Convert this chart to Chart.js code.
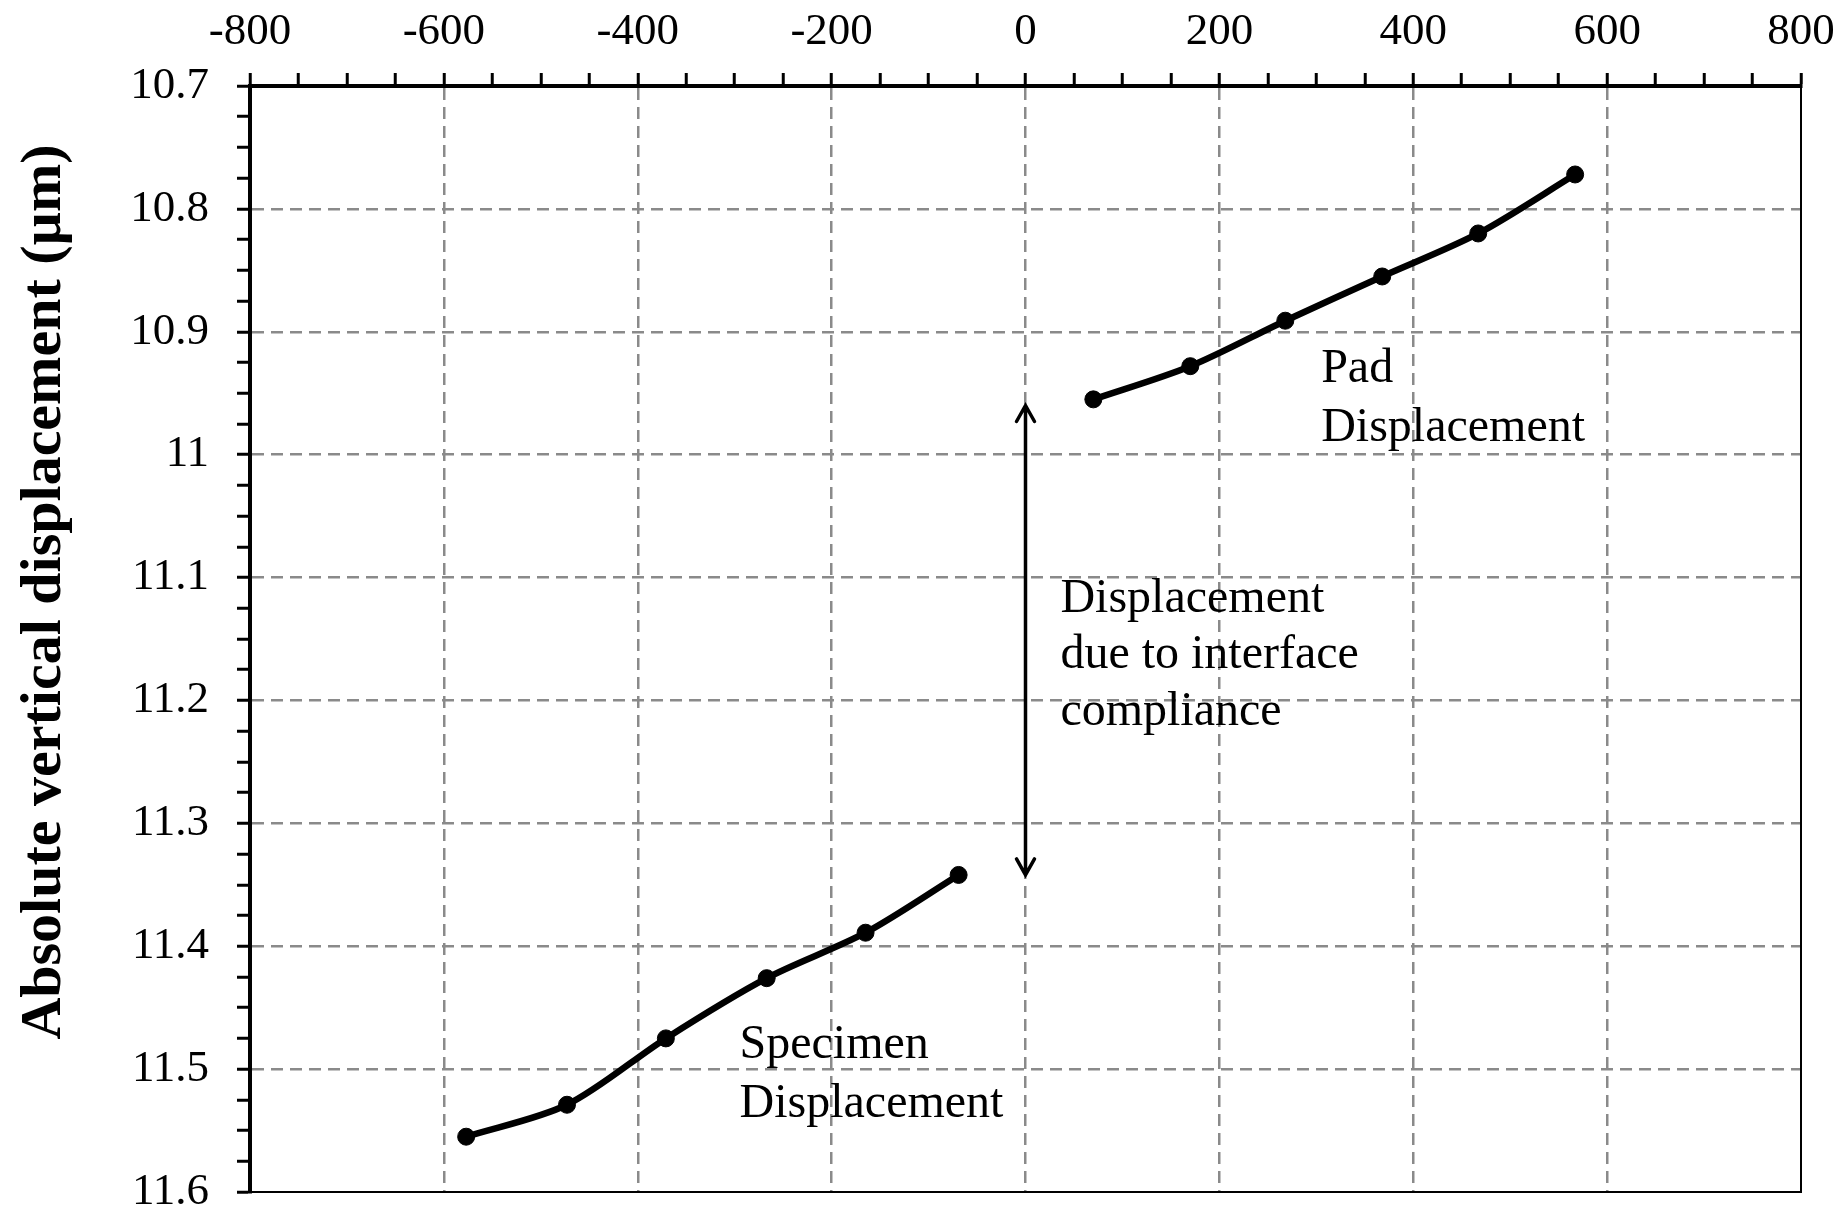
<!DOCTYPE html>
<html>
<head>
<meta charset="utf-8">
<script src="https://cdn.jsdelivr.net/npm/chart.js@4.4.1/dist/chart.umd.min.js"></script>
<style>
html, body { margin: 0; padding: 0; background: #fff; overflow: hidden; }
canvas { display: block; }
</style>
</head>
<body>
<canvas id="chart" width="1842" height="1213"></canvas>
<script>
// data
var specimenX = [-577, -473, -371, -267, -165, -69];
var specimenY = [11.555, 11.529, 11.475, 11.426, 11.389, 11.342];
var padX = [70, 170, 268, 368, 467, 567];
var padY = [10.955, 10.928, 10.891, 10.855, 10.820, 10.772];

var xMin = -800, xMax = 800, xMajor = 200, xMinor = 50;
var yMin = 10.7, yMax = 11.6, yMajor = 0.1, yMinor = 0.025;

var yTitle = 'Absolute vertical displacement (µm)';

// double arrow at x = 0
var arrowX = 0;
var arrowTop = 10.96;
var arrowBottom = 11.342;

// text notes, anchored in data units (left edge, line centres)
var notes = [
  { lines: ['Pad', 'Displacement'], x: 305, y: [10.931, 10.979] },
  { lines: ['Displacement', 'due to interface', 'compliance'], x: 36, y: [11.118, 11.163, 11.210] },
  { lines: ['Specimen', 'Displacement'], x: -295, y: [11.481, 11.529] }
];

function pts(xs, ys) {
  return xs.map(function (x, i) { return { x: x, y: ys[i] }; });
}

function isMajor(v, step) {
  var r = v / step;
  return Math.abs(r - Math.round(r)) < 1e-6;
}

var gridGray = '#8a8a8a';
var serif = '"Liberation Serif", "Times New Roman", serif';

var extras = {
  id: 'extras',
  afterDatasetsDraw: function (chart) {
    var ctx = chart.ctx;
    var area = chart.chartArea;
    var xs = chart.scales.x, ys = chart.scales.y;
    ctx.save();

    // right and bottom frame
    ctx.strokeStyle = '#000';
    ctx.lineWidth = 2;
    ctx.beginPath();
    ctx.moveTo(area.right, area.top);
    ctx.lineTo(area.right, area.bottom);
    ctx.lineTo(area.left, area.bottom);
    ctx.stroke();

    // arrow
    var ax = xs.getPixelForValue(arrowX);
    var at = ys.getPixelForValue(arrowTop);
    var ab = ys.getPixelForValue(arrowBottom);
    ctx.lineWidth = 3.5;
    ctx.lineCap = 'round';
    ctx.beginPath();
    ctx.moveTo(ax, at + 2);
    ctx.lineTo(ax, ab - 2);
    ctx.moveTo(ax - 9, at + 16);
    ctx.lineTo(ax, at);
    ctx.lineTo(ax + 9, at + 16);
    ctx.moveTo(ax - 9, ab - 16);
    ctx.lineTo(ax, ab);
    ctx.lineTo(ax + 9, ab - 16);
    ctx.stroke();

    // notes
    ctx.fillStyle = '#000';
    ctx.font = '48px ' + serif;
    ctx.textAlign = 'left';
    ctx.textBaseline = 'middle';
    notes.forEach(function (n) {
      var px = xs.getPixelForValue(n.x);
      n.lines.forEach(function (t, i) {
        ctx.fillText(t, px, ys.getPixelForValue(n.y[i]));
      });
    });

    // y axis title
    ctx.font = 'bold 58px ' + serif;
    ctx.textAlign = 'center';
    ctx.translate(45, (area.top + area.bottom) / 2 - 47);
    ctx.rotate(-Math.PI / 2);
    ctx.fillText(yTitle, 0, 0);
    ctx.restore();
  }
};

var tickFont = { family: serif, size: 45 };

new Chart(document.getElementById('chart'), {
  type: 'line',
  data: {
    datasets: [
      {
        label: 'Specimen Displacement',
        data: pts(specimenX, specimenY),
        borderColor: '#000',
        backgroundColor: '#000',
        borderWidth: 6.5,
        pointRadius: 8.5,
        pointBorderWidth: 1,
        tension: 0.3
      },
      {
        label: 'Pad Displacement',
        data: pts(padX, padY),
        borderColor: '#000',
        backgroundColor: '#000',
        borderWidth: 6.5,
        pointRadius: 8.5,
        pointBorderWidth: 1,
        tension: 0.3
      }
    ]
  },
  options: {
    responsive: false,
    animation: false,
    layout: { padding: { right: 41, bottom: 21 } },
    plugins: { legend: { display: false }, tooltip: { enabled: false } },
    scales: {
      x: {
        type: 'linear',
        position: 'top',
        min: xMin,
        max: xMax,
        afterFit: function (s) { s.height = 86; s.paddingLeft = 0; s.paddingRight = 0; },
        ticks: {
          stepSize: xMinor,
          autoSkip: false,
          maxRotation: 0,
          color: '#000',
          font: tickFont,
          padding: 14,
          callback: function (v) { return isMajor(v, xMajor) ? String(v) : ''; }
        },
        border: { display: true, color: '#000', width: 4, dash: [12, 7] },
        grid: {
          lineWidth: 2.5,
          color: function (c) {
            var v = c.tick ? c.tick.value : null;
            if (v === null || !isMajor(v, xMajor) || v === xMin || v === xMax) return 'rgba(0,0,0,0)';
            return gridGray;
          },
          tickColor: '#000',
          tickWidth: 3,
          tickLength: 13,
          tickBorderDash: []
        }
      },
      y: {
        type: 'linear',
        reverse: true,
        min: yMin,
        max: yMax,
        afterFit: function (s) { s.width = 250; s.paddingTop = 0; s.paddingBottom = 0; },
        ticks: {
          stepSize: yMinor,
          autoSkip: false,
          color: '#000',
          font: tickFont,
          padding: 28,
          callback: function (v) { return isMajor(v, yMajor) ? String(Math.round(v * 10) / 10) : ''; }
        },
        border: { display: true, color: '#000', width: 4, dash: [12, 7] },
        grid: {
          lineWidth: 2.5,
          color: function (c) {
            var v = c.tick ? c.tick.value : null;
            if (v === null || !isMajor(v, yMajor) || Math.abs(v - yMin) < 1e-6 || Math.abs(v - yMax) < 1e-6) return 'rgba(0,0,0,0)';
            return gridGray;
          },
          tickColor: '#000',
          tickWidth: 3,
          tickLength: 13,
          tickBorderDash: []
        }
      }
    }
  },
  plugins: [extras]
});
</script>
</body>
</html>
